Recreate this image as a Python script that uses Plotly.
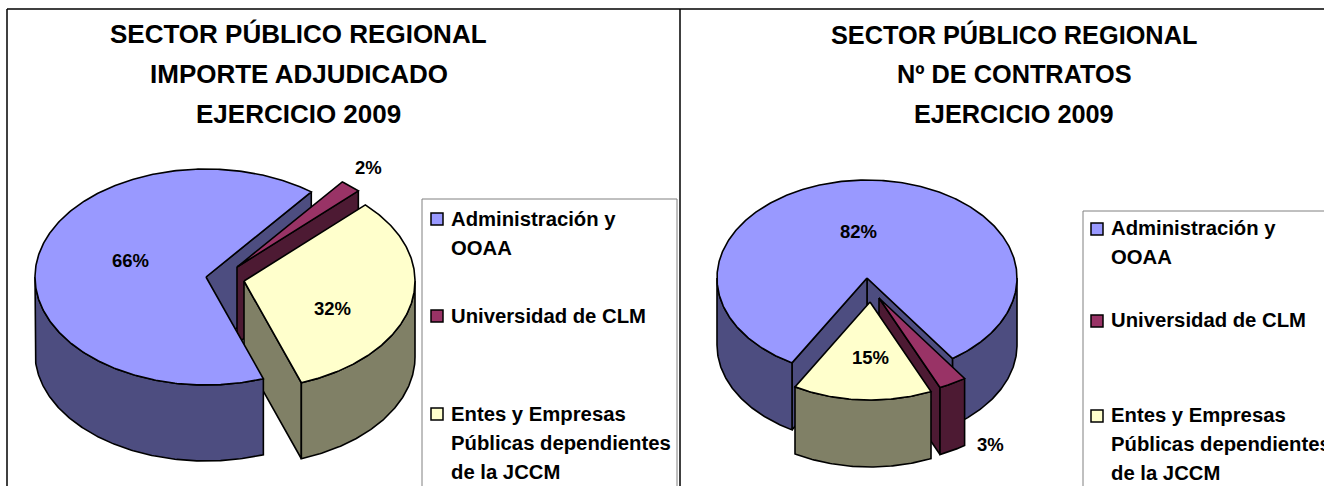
import math
import plotly.graph_objects as go

# ---------- data ----------
categories = ["Administración y", "Universidad de CLM", "Entes y Empresas"]
legend_lines = [["Administración y", "OOAA"],
                ["Universidad de CLM"],
                ["Entes y Empresas", "Públicas dependientes", "de la JCCM"]]
importe_share = [66, 2, 32]
contratos_share = [82, 3, 15]
titles_left = ["SECTOR PÚBLICO REGIONAL", "IMPORTE ADJUDICADO", "EJERCICIO 2009"]
titles_right = ["SECTOR PÚBLICO REGIONAL", "Nº DE CONTRATOS", "EJERCICIO 2009"]

# ---------- style / layout ----------
TOP = ["#9999FF", "#993366", "#FFFFCC"]
SIDE = ["#4D4D80", "#4D1A33", "#808066"]
FONT = "Liberation Sans"
W, H = 1324, 486

LEFT = dict(rx=171, ry=108, depth=76, start=160.4,
            apex=[(206, 277), (237, 267), (244, 281)])
RIGHT = dict(rx=150, ry=98, depth=67, start=210,
             apex=[(867, 278), (879, 298), (870, 302)])

fig = go.Figure()


def angles(shares, start):
    out, a = [], start
    for s in shares:
        out.append((a, a + s * 3.6))
        a += s * 3.6
    return out


def pt(c, p, deg, dz=0):
    t = math.radians(deg)
    return c[0] + p["rx"] * math.sin(t), c[1] - p["ry"] * math.cos(t) + dz


def arc(c, p, a0, a1, dz=0):
    n = max(2, int(abs(a1 - a0) * 1.5))
    return [pt(c, p, a0 + (a1 - a0) * i / n, dz) for i in range(n + 1)]


def poly(points, color):
    xs = [q[0] for q in points] + [points[0][0]]
    ys = [q[1] for q in points] + [points[0][1]]
    fig.add_trace(go.Scatter(x=xs, y=ys, mode="lines", fill="toself", fillcolor=color,
                             line=dict(color="black", width=1.6), hoverinfo="skip",
                             showlegend=False))


def top(p, i, span):
    c = p["apex"][i]
    poly([c] + arc(c, p, span[0], span[1]), TOP[i])


def face(p, i, deg):
    c = p["apex"][i]
    d = p["depth"]
    e = pt(c, p, deg)
    poly([c, e, (e[0], e[1] + d), (c[0], c[1] + d)], SIDE[i])


def wall(p, i, a0, a1):
    c = p["apex"][i]
    poly(arc(c, p, a0, a1) + arc(c, p, a1, a0, p["depth"]), SIDE[i])


# left pie, painted back to front
s = angles(importe_share, LEFT["start"])
face(LEFT, 0, s[0][1])
face(LEFT, 1, s[1][1])
top(LEFT, 1, s[1])
face(LEFT, 2, s[2][1])
wall(LEFT, 2, 90, s[2][1] - 360)
top(LEFT, 2, s[2])
wall(LEFT, 0, s[0][0], 270)
top(LEFT, 0, s[0])

# right pie, painted back to front
s = angles(contratos_share, RIGHT["start"])
face(RIGHT, 0, s[0][1] - 360)
face(RIGHT, 0, s[0][0])
wall(RIGHT, 0, s[0][0], 270)
wall(RIGHT, 0, 90, s[0][1] - 360)
top(RIGHT, 0, s[0])
face(RIGHT, 1, s[1][1] - 360)
wall(RIGHT, 1, s[1][0] - 360, s[1][1] - 360)
top(RIGHT, 1, s[1])
wall(RIGHT, 2, s[2][0] - 360, s[2][1] - 360)
top(RIGHT, 2, s[2])

anns = []


def text(x, y, t, size, anchor="center"):
    anns.append(dict(x=x, y=y, text=t, showarrow=False, xref="x", yref="y",
                     xanchor=anchor, yanchor="middle",
                     font=dict(family=FONT, size=size, color="black")))


for cx, lines, size in ((298.5, titles_left, 26), (1014, titles_right, 25.3)):
    for i, t in enumerate(lines):
        text(cx, 34 + 40 * i, "<b>%s</b>" % t, size)

for v, (x, y) in zip(importe_share, [(130, 260), (368, 167), (332, 308)]):
    text(x, y, "<b>%d%%</b>" % v, 18.5)
for v, (x, y) in zip(contratos_share, [(858, 231), (990, 444), (870, 357)]):
    text(x, y, "<b>%d%%</b>" % v, 18.5)

legend_pos = [(437, 449, [219, 316, 414]), (1097, 1109, [229, 321, 416])]
shapes = []
for sx, tx, ys in legend_pos:
    fig.add_trace(go.Scatter(x=[sx] * 3, y=ys, mode="markers", hoverinfo="skip", showlegend=False,
                             marker=dict(symbol="square", size=12, color=TOP,
                                         line=dict(color="black", width=1.5))))
    for lines, y in zip(legend_lines, ys):
        for j, t in enumerate(lines):
            text(tx, y + 29 * j - (0 if tx == 449 else 1), "<b>%s</b>" % t, 20.3, "left")

line_k = dict(type="line", xref="x", yref="y")
shapes += [
    dict(line_k, x0=7, x1=7, y0=9, y1=H, line=dict(color="black", width=1.5)),
    dict(line_k, x0=7, x1=W, y0=9, y1=9, line=dict(color="black", width=1.5)),
    dict(line_k, x0=680, x1=680, y0=9, y1=H, line=dict(color="black", width=1.5)),
    dict(type="rect", xref="x", yref="y", x0=422, x1=677, y0=199, y1=H + 5,
         line=dict(color="#808080", width=1)),
    dict(type="rect", xref="x", yref="y", x0=1083, x1=W + 5, y0=211, y1=H + 5,
         line=dict(color="#808080", width=1)),
]

fig.update_layout(width=W, height=H, margin=dict(l=0, r=0, t=0, b=0),
                  paper_bgcolor="white", plot_bgcolor="white", showlegend=False,
                  xaxis=dict(range=[0, W], visible=False, fixedrange=True),
                  yaxis=dict(range=[H, 0], visible=False, fixedrange=True),
                  annotations=anns, shapes=shapes)
fig.write_html("out.html", config={"displayModeBar": False},
               post_script="document.body.style.margin='0';document.body.style.overflow='hidden';")
